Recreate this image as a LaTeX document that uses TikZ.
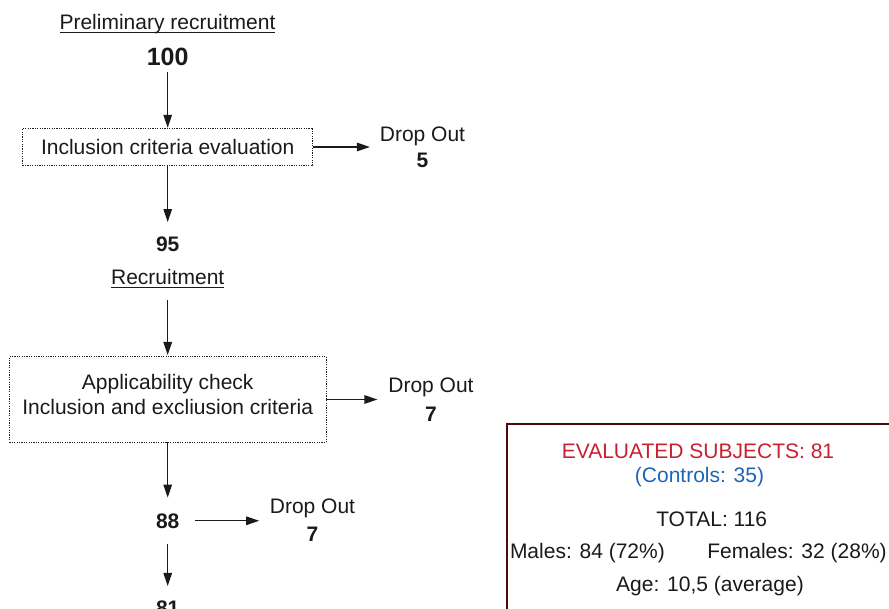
\documentclass[tikz,border=0pt]{standalone}
\usepackage{fontspec}
\setmainfont{Liberation Sans}
\usetikzlibrary{arrows.meta}
\definecolor{ink}{HTML}{1A1A1A}
\definecolor{evalred}{HTML}{C8202F}
\definecolor{ctrlblue}{HTML}{1F63B5}
\definecolor{boxline}{HTML}{4B0A0E}
\begin{document}
\begin{tikzpicture}[x=1pt,y=-1pt,
  every node/.style={inner sep=0pt, outer sep=0pt, text=ink, font=\fontsize{21}{25}\selectfont},
  arr/.style={draw=ink, line width=1.3pt, -{Triangle[length=13pt,width=8.5pt]}},
  dotbox/.style={draw=ink, line width=0.9pt, dash pattern=on 1.2pt off 1.2pt},
  num/.style={font=\fontsize{21}{25}\selectfont\bfseries},
  uline/.style={draw=ink, line width=1.1pt}]
\useasboundingbox (0,0) rectangle (889,609);
\clip (0,0) rectangle (889,609);

% left column
\node[anchor=base] (prelim) at (167.5,30) {Preliminary recruitment};
\draw[uline] ([yshift=-2.5pt]prelim.base west) -- ([yshift=-2.5pt]prelim.base east);
\node[anchor=base, font=\fontsize{25}{30}\selectfont\bfseries] (n100) at (167.7,66) {100};
\node[dotbox, minimum width=290.4pt, minimum height=37.4pt, text height=15pt, text depth=0pt] (incl) at (167.7,147) {Inclusion criteria evaluation};
\node[anchor=base, align=center] (do1) at (422.5,168) {Drop Out\\[1.3pt]\textbf{5}};
\node[anchor=base, num] (n95) at (167.7,251.7) {95};
\node[anchor=base] (recr) at (167.7,285) {Recruitment};
\draw[uline] ([yshift=-2.5pt]recr.base west) -- ([yshift=-2.5pt]recr.base east);
\node[dotbox, minimum width=316.7pt, minimum height=85.6pt, align=center, text height=40pt, text depth=9pt] (chk) at (167.7,399.5) {Applicability check\\Inclusion and excliusion criteria};
\node[anchor=base, align=center] (do2) at (431,421.7) {Drop Out\\[3.7pt]\textbf{7}};
\node[anchor=base, num] (n88) at (167.7,528) {88};
\node[anchor=base, align=center] (do3) at (312.5,541.7) {Drop Out\\[3.7pt]\textbf{7}};
\node[anchor=base, num] (n81) at (167.7,615) {81};

% connectors
\draw[arr, shorten <=6pt, shorten >=0.5pt] (n100.south) -- (incl.north);
\draw[arr, shorten >=10pt] (incl.east) -- (incl.east -| do1.west);
\draw[arr, shorten >=15pt] (incl.south) -- (n95.north);
\draw[arr, shorten <=15pt, shorten >=1.7pt] (recr.south) -- (chk.north);
\draw[arr, shorten >=11pt] (chk.east) -- (chk.east -| do2.west);
\draw[arr, shorten >=15.7pt] (chk.south) -- (n88.north);
\draw[arr, shorten <=15.5pt, shorten >=10.7pt] (n88.east) -- (n88.east -| do3.west);
\draw[arr, shorten <=15.3pt, shorten >=14.4pt] (n88.south) -- (n81.north);

% summary box
\node[draw=boxline, line width=2.6pt, minimum width=493pt, minimum height=276pt] (summary) at (753.5,562) {};
\node[anchor=base, text=evalred] (evalt) at (698,458) {EVALUATED SUBJECTS: 81};
\node[anchor=base, text=ctrlblue] (ctrl) at (699.5,482.7) {(Controls: 35)};
\node[anchor=base] (tot) at (711.7,526.7) {TOTAL: 116};
\node[anchor=base west] (males) at (510,558) {Males: 84 (72\%)};
\node[anchor=base east] (fem) at (886.7,558) {Females: 32 (28\%)};
\node[anchor=base] (age) at (710,591.7) {Age: 10,5 (average)};
\end{tikzpicture}
\end{document}
